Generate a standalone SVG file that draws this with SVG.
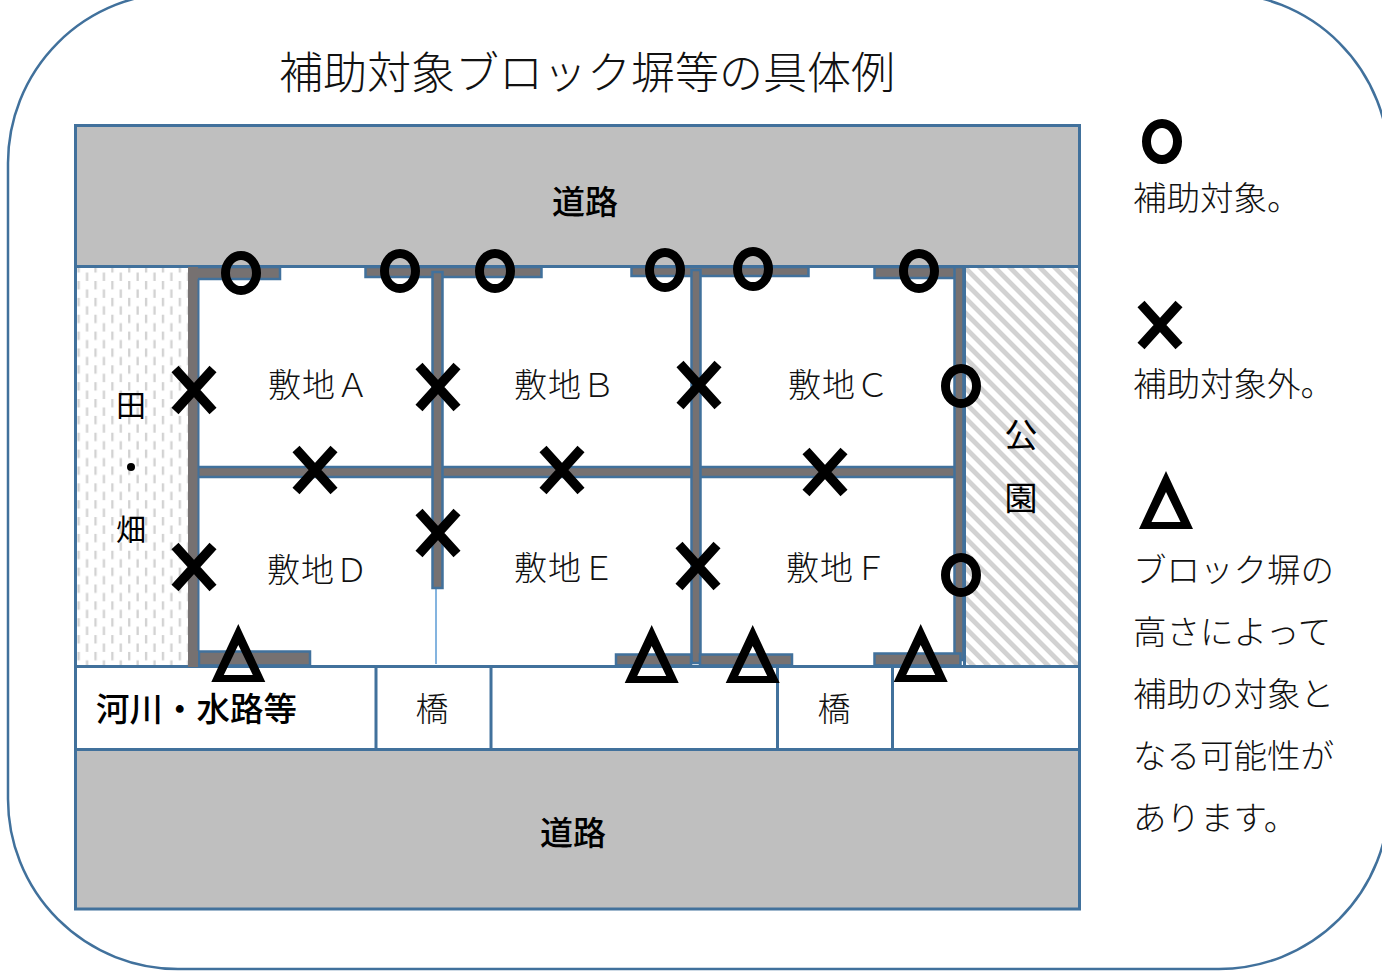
<svg xmlns="http://www.w3.org/2000/svg" width="1382" height="971" viewBox="0 0 1382 971">
<defs>
<pattern id="dash" width="16.86" height="16.86" patternUnits="userSpaceOnUse" patternTransform="translate(77.500 281)">
<rect width="16.86" height="16.86" fill="#fff"/>
<rect x="0" y="0" width="2.300" height="8.400" fill="#d2d2d2"/><rect x="8.430" y="8.430" width="2.300" height="8.400" fill="#d2d2d2"/>
</pattern>
<pattern id="hatch" width="10.6" height="10.6" patternUnits="userSpaceOnUse" patternTransform="rotate(45 965 267)">
<rect width="10.6" height="10.6" fill="#fff"/><rect width="10.6" height="4.800" fill="#d2d2d2"/>
</pattern>
<path id="tri" fill-rule="evenodd" d="M0 0 L27 58 H-27 Z M0 21 L-14.500 51 H14.500 Z"/>
</defs>
<style>
text{font-family:"Noto Sans CJK JP","Noto Sans CJK SC",sans-serif;font-weight:300;fill:#111;font-size:33px}
.b{font-weight:500;fill:#000}
.m{font-weight:400;fill:#000}
.area{stroke:#41719c;stroke-width:3}
.wall{fill:#767171;stroke:#41719c;stroke-width:2.500}
.o{fill:none;stroke:#000;stroke-width:9}
.x{fill:none;stroke:#000;stroke-width:9.500}
.s{letter-spacing:1px}
.l{font-size:33.500px}
</style>
<rect id="frame" x="8" y="-7" width="1381" height="976" rx="170" ry="170" fill="#fff" stroke="#41719c" stroke-width="2.500"/>
<text id="title" x="279" y="89" style="font-size:44px">補助対象ブロック塀等の具体例</text>
<g id="road-top"><rect class="area" x="75.500" y="125.500" width="1004" height="141" fill="#bfbfbf"/><text class="b" x="585" y="214" text-anchor="middle">道路</text></g>
<g id="field"><rect class="area" x="75.500" y="266.500" width="115" height="400" fill="url(#dash)"/><text class="m" x="131" y="416" text-anchor="middle" style="font-size:30px">田</text><circle cx="131" cy="467" r="4" fill="#000"/><text class="m" x="131" y="540" text-anchor="middle" style="font-size:30px">畑</text></g>
<g id="park"><rect class="area" x="964.500" y="266.500" width="115" height="400" fill="url(#hatch)"/><text class="m" x="1021" y="447" text-anchor="middle">公</text><text class="m" x="1021" y="510" text-anchor="middle">園</text></g>
<g id="river"><rect class="area" x="75.500" y="666.500" width="1004" height="83" fill="#fff"/><text class="b l" x="96" y="721">河川・水路等</text></g>
<g id="bridge-1"><rect class="area" x="376" y="666.500" width="115" height="83" fill="#fff"/><text x="432" y="721" text-anchor="middle">橋</text></g>
<g id="bridge-2"><rect class="area" x="777.500" y="666.500" width="115" height="83" fill="#fff"/><text x="834" y="721" text-anchor="middle">橋</text></g>
<g id="road-bottom"><rect class="area" x="75.500" y="749.500" width="1004" height="159.500" fill="#bfbfbf"/><text class="b" x="573" y="845" text-anchor="middle">道路</text></g>
<g id="site-a"><text class="s" x="268" y="397">敷地Ａ</text></g>
<g id="site-b"><text class="s" x="514" y="397">敷地Ｂ</text></g>
<g id="site-c"><text class="s" x="788" y="397">敷地Ｃ</text></g>
<g id="site-d"><text class="s" x="267" y="582">敷地Ｄ</text></g>
<g id="site-e"><text class="s" x="514" y="580">敷地Ｅ</text></g>
<g id="site-f"><text class="s" x="786" y="580">敷地Ｆ</text></g>
<g id="connectors">
<line x1="436" y1="588" x2="436" y2="664" stroke="#5b9bd5" stroke-width="1.500"/>
<rect class="wall" x="193" y="267" width="87" height="12"/>
<rect class="wall" x="365.500" y="267" width="176" height="10"/>
<rect class="wall" x="631.500" y="267" width="177" height="9"/>
<rect class="wall" x="874.500" y="267" width="85" height="11"/>
<rect class="wall" x="192" y="467" width="764" height="10"/>
<rect class="wall" x="432.500" y="272" width="10" height="316"/>
<rect class="wall" x="691.500" y="270" width="9" height="393"/>
<rect class="wall" x="954.500" y="267" width="9" height="393"/>
<rect class="wall" x="199" y="651.500" width="111" height="14"/>
<rect class="wall" x="616" y="654.500" width="75" height="11"/>
<rect class="wall" x="700" y="654.500" width="92" height="11"/>
<rect class="wall" x="874.500" y="653.500" width="86" height="12"/>
<rect x="188" y="267" width="10" height="400" fill="#767171"/>
<line x1="198.500" y1="279" x2="198.500" y2="651" stroke="#41719c" stroke-width="2"/>
</g>
<g id="marks">
<g class="o"><ellipse cx="241" cy="273" rx="15.500" ry="17.500"/><ellipse cx="400" cy="271" rx="15.500" ry="17.500"/><ellipse cx="495" cy="271" rx="15.500" ry="17.500"/><ellipse cx="665" cy="270" rx="15.500" ry="17.500"/><ellipse cx="753" cy="269" rx="15.500" ry="17.500"/><ellipse cx="919" cy="271" rx="15.500" ry="17.500"/><ellipse cx="961" cy="386" rx="15.500" ry="17.500"/><ellipse cx="961" cy="575" rx="15.500" ry="17.500"/><ellipse cx="1162" cy="141.500" rx="15.500" ry="18"/></g>
<g class="x"><path d="M175 369 L213 411 M213 369 L175 411"/><path d="M419 366 L457 408 M457 366 L419 408"/><path d="M680 364 L718 406 M718 364 L680 406"/><path d="M296 449 L334 491 M334 449 L296 491"/><path d="M543 449 L581 491 M581 449 L543 491"/><path d="M806 451 L844 493 M844 451 L806 493"/><path d="M175 546 L213 588 M213 546 L175 588"/><path d="M419 512 L457 554 M457 512 L419 554"/><path d="M679 545 L717 587 M717 545 L679 587"/><path d="M1141 304 L1179 346 M1179 304 L1141 346"/></g>
<use href="#tri" x="238.300" y="624"/><use href="#tri" x="651.700" y="625"/><use href="#tri" x="752.700" y="625"/><use href="#tri" x="920.700" y="624"/><use href="#tri" x="1166" y="471"/>
</g>
<g id="legend">
<text class="l" x="1133" y="210">補助対象。</text>
<text class="l" x="1133" y="396">補助対象外。</text>
<text class="l" x="1133" y="582">ブロック塀の</text>
<text class="l" x="1133" y="644">高さによって</text>
<text class="l" x="1133" y="706">補助の対象と</text>
<text class="l" x="1133" y="768">なる可能性が</text>
<text class="l" x="1133" y="830">あります。</text>
</g>
</svg>
